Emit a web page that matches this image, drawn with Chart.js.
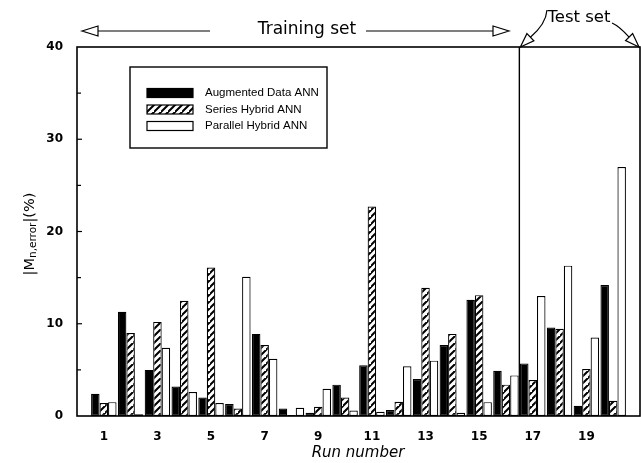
<!DOCTYPE html>
<html>
<head>
<meta charset="utf-8">
<script src="https://cdn.jsdelivr.net/npm/chart.js@4.4.0/dist/chart.umd.min.js"></script>
<style>
  html, body { margin: 0; padding: 0; background: #fff; }
  #wrap { width: 641px; height: 463px; }
</style>
</head>
<body>
<div id="wrap"><canvas id="chart" width="641" height="463"></canvas></div>
<script>
// Run numbers (padded with an empty slot at each end so runs sit at 1..20)
const runLabels = ['', '1', '2', '3', '4', '5', '6', '7', '8', '9', '10',
    '11', '12', '13', '14', '15', '16', '17', '18', '19', '20', ''];

// |Mn,error| (%) per run
const augmentedData = [null, 2.4, 11.3, 5.0, 3.2, 2.0, 1.3, 8.9, 0.8, 0.35, 3.4,
    5.5, 0.65, 4.0, 7.7, 12.6, 4.9, 5.7, 9.6, 1.1, 14.2, null];
const seriesHybrid = [null, 1.4, 9.0, 10.2, 12.5, 16.1, 0.8, 7.7, 0.1, 1.0, 2.0,
    22.7, 1.55, 13.9, 8.9, 13.1, 3.4, 3.9, 9.45, 5.1, 1.65, null];
const parallelHybrid = [null, 1.5, 0.2, 7.4, 2.6, 1.4, 15.1, 6.2, 0.9, 2.95, 0.6,
    0.45, 5.4, 6.0, 0.35, 1.5, 4.4, 13.0, 16.3, 8.5, 27.0, null];

const yTickValues = [0, 10, 20, 30, 40];
const firstTestRun = 17;

const FONT = '"DejaVu Sans", sans-serif';

// diagonal hatch pattern for the series hybrid bars
function makeHatch() {
    const s = 7;
    const c = document.createElement('canvas');
    c.width = s;
    c.height = s;
    const g = c.getContext('2d');
    g.fillStyle = '#fff';
    g.fillRect(0, 0, s, s);
    g.strokeStyle = '#000';
    g.lineWidth = 2;
    g.beginPath();
    g.moveTo(-1, s + 1); g.lineTo(s + 1, -1);
    g.moveTo(-s - 1, s + 1); g.lineTo(1, -1);
    g.moveTo(s - 1, 2 * s + 1); g.lineTo(2 * s + 1, s - 1);
    g.stroke();
    return g.createPattern(c, 'repeat');
}
const hatch = makeHatch();

function arrowHead(ctx, tipX, tipY, fromX, fromY, len, half) {
    const a = Math.atan2(tipY - fromY, tipX - fromX);
    const bx = tipX - Math.cos(a) * len;
    const by = tipY - Math.sin(a) * len;
    const nx = -Math.sin(a) * half;
    const ny = Math.cos(a) * half;
    ctx.beginPath();
    ctx.moveTo(tipX, tipY);
    ctx.lineTo(bx + nx, by + ny);
    ctx.lineTo(bx - nx, by - ny);
    ctx.closePath();
    ctx.fillStyle = '#fff';
    ctx.fill();
    ctx.stroke();
    ctx.fillStyle = '#000';
    return [bx, by];
}

const decorations = {
    id: 'decorations',
    afterDraw(chart) {
        const ctx = chart.ctx;
        const area = chart.chartArea;
        const x = chart.scales.x;
        const y = chart.scales.y;
        ctx.save();
        ctx.strokeStyle = '#000';
        ctx.fillStyle = '#000';

        // frame
        ctx.lineWidth = 1.6;
        ctx.strokeRect(area.left, area.top, area.right - area.left, area.bottom - area.top);

        // inward y ticks every 5
        ctx.lineWidth = 1.2;
        for (let v = 5; v < 40; v += 5) {
            const py = y.getPixelForValue(v);
            ctx.beginPath();
            ctx.moveTo(area.left, py);
            ctx.lineTo(area.left + (v % 10 === 0 ? 5 : 4), py);
            ctx.stroke();
        }

        // training / test divider
        const divX = (x.getPixelForValue(firstTestRun - 1) + x.getPixelForValue(firstTestRun)) / 2;
        ctx.lineWidth = 1.4;
        ctx.beginPath();
        ctx.moveTo(divX, area.top);
        ctx.lineTo(divX, area.bottom);
        ctx.stroke();

        // training set arrow
        ctx.lineWidth = 1.2;
        const ay = 31;
        let b = arrowHead(ctx, 82, ay, 120, ay, 16, 5);
        ctx.beginPath(); ctx.moveTo(b[0], ay); ctx.lineTo(210, ay); ctx.stroke();
        b = arrowHead(ctx, 509, ay, 470, ay, 16, 5);
        ctx.beginPath(); ctx.moveTo(366, ay); ctx.lineTo(b[0], ay); ctx.stroke();
        ctx.font = '17px ' + FONT;
        ctx.textAlign = 'center';
        ctx.textBaseline = 'middle';
        ctx.fillText('Training set', 307, ay - 1);

        // test set arrows
        ctx.font = '16.5px ' + FONT;
        ctx.fillText('Test set', 579, 18);
        b = arrowHead(ctx, divX + 1, area.top, 546, 22, 14, 5);
        ctx.beginPath(); ctx.moveTo(547, 10); ctx.quadraticCurveTo(546, 24, b[0], b[1]); ctx.stroke();
        b = arrowHead(ctx, area.right - 1, area.top, 614, 22, 14, 5);
        ctx.beginPath(); ctx.moveTo(612, 23); ctx.quadraticCurveTo(619, 26, b[0], b[1]); ctx.stroke();

        // legend box
        ctx.lineWidth = 1.4;
        ctx.strokeRect(130, 67, 197, 81);
        const items = [
            ['Augmented Data ANN', '#000'],
            ['Series Hybrid ANN', hatch],
            ['Parallel Hybrid ANN', '#fff']
        ];
        ctx.font = '11.5px "Liberation Sans", sans-serif';
        ctx.textAlign = 'left';
        items.forEach((it, i) => {
            const ry = 93 + i * 16.5;
            ctx.fillStyle = it[1];
            ctx.fillRect(147, ry - 4.5, 46, 9);
            ctx.lineWidth = 1.2;
            ctx.strokeRect(147, ry - 4.5, 46, 9);
            ctx.fillStyle = '#000';
            ctx.fillText(it[0], 205, ry);
        });

        // axis titles
        ctx.font = 'italic 15px ' + FONT;
        ctx.textAlign = 'center';
        ctx.fillText('Run number', 358, 453);

        ctx.translate(30, 234);
        ctx.rotate(-Math.PI / 2);
        const parts = [['|M', 14.5, 0], ['n,error', 10.5, 3], ['|(%)', 14.5, 0]];
        let total = 0;
        parts.forEach(p => { ctx.font = p[1] + 'px ' + FONT; total += ctx.measureText(p[0]).width; });
        let cx = -total / 2;
        ctx.textAlign = 'left';
        parts.forEach(p => {
            ctx.font = p[1] + 'px ' + FONT;
            ctx.fillText(p[0], cx, p[2]);
            cx += ctx.measureText(p[0]).width;
        });
        ctx.restore();
    }
};

const barStyle = { borderColor: '#000', borderWidth: 1.2, borderSkipped: false };

new Chart(document.getElementById('chart').getContext('2d'), {
    type: 'bar',
    data: {
        labels: runLabels,
        datasets: [
            Object.assign({ label: 'Augmented Data ANN', data: augmentedData, backgroundColor: '#000' }, barStyle),
            Object.assign({ label: 'Series Hybrid ANN', data: seriesHybrid, backgroundColor: hatch }, barStyle),
            Object.assign({ label: 'Parallel Hybrid ANN', data: parallelHybrid, backgroundColor: '#fff' }, barStyle)
        ]
    },
    options: {
        responsive: false,
        animation: false,
        events: [],
        layout: { padding: { top: 47, right: 1, left: 0, bottom: 0 } },
        datasets: { bar: { categoryPercentage: 0.95, barPercentage: 1.0 } },
        plugins: { legend: { display: false }, tooltip: { enabled: false } },
        scales: {
            x: {
                offset: false,
                grid: { display: false },
                border: { display: false },
                ticks: {
                    autoSkip: false,
                    maxRotation: 0,
                    color: '#000',
                    font: { family: FONT, size: 12, weight: 'bold' },
                    padding: 6,
                    callback: function(value, index) {
                        return (index % 2 === 1 && index < 20) ? runLabels[index] : '';
                    }
                },
                afterFit: function(scale) {
                    scale.height = 47;
                    scale.paddingLeft = 0;
                    scale.paddingRight = 0;
                }
            },
            y: {
                min: 0,
                max: 40,
                afterBuildTicks: function(scale) {
                    scale.ticks = yTickValues.map(v => ({ value: v }));
                },
                grid: { display: false },
                border: { display: false },
                ticks: {
                    color: '#000',
                    font: { family: FONT, size: 12, weight: 'bold' },
                    padding: 6
                },
                afterFit: function(scale) {
                    scale.width = 77;
                    scale.paddingTop = 0;
                    scale.paddingBottom = 0;
                }
            }
        }
    },
    plugins: [decorations]
});
</script>
</body>
</html>
